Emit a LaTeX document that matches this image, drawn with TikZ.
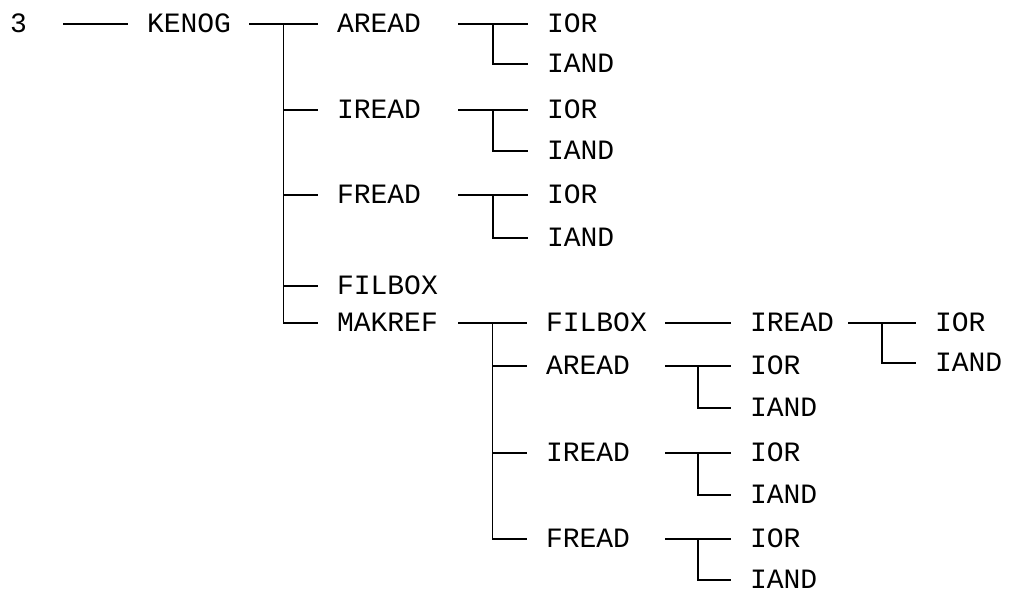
\documentclass[tikz,border=0pt]{standalone}
\usepackage{fontspec}
\setmonofont{Liberation Mono}
\usetikzlibrary{calc}
\begin{document}
\begin{tikzpicture}[x=1pt,y=-1pt,
  lbl/.style={inner sep=0pt, outer xsep=19pt, outer ysep=0pt, anchor=west,
    font=\ttfamily\fontsize{28}{28}\selectfont, text height=17pt, text depth=0pt},
  wd/.style={text width=#1, align=left},
  conn/.style={line width=1.8pt, line cap=butt}]
\useasboundingbox (0,0) rectangle (1016,591);
% labels
\node[lbl,wd=34pt] (n3) at (-9,24) {3};
\node[lbl,wd=83pt] (kenog) at (128,24) {KENOG};
\node[lbl,wd=102pt] (aread1) at (318,24) {AREAD};
\node[lbl,wd=102pt] (iread1) at (318,110) {IREAD};
\node[lbl,wd=102pt] (fread1) at (318,195) {FREAD};
\node[lbl,wd=102pt] (filbox1) at (318,286) {FILBOX};
\node[lbl,wd=102pt] (makref) at (318,323) {MAKREF};
\node[lbl] (ior1) at (528,24) {IOR};
\node[lbl] (iand1) at (528,64) {IAND};
\node[lbl] (ior2) at (528,110) {IOR};
\node[lbl] (iand2) at (528,151) {IAND};
\node[lbl] (ior3) at (528,195) {IOR};
\node[lbl] (iand3) at (528,238) {IAND};
\node[lbl,wd=100pt] (filbox2) at (527,323) {FILBOX};
\node[lbl,wd=100pt] (aread2) at (527,366) {AREAD};
\node[lbl,wd=100pt] (iread2) at (527,453) {IREAD};
\node[lbl,wd=100pt] (fread2) at (527,539) {FREAD};
\node[lbl,wd=79pt] (iread3) at (731,323) {IREAD};
\node[lbl] (ior4) at (731,366) {IOR};
\node[lbl] (iand4) at (731,408) {IAND};
\node[lbl] (ior5) at (731,453) {IOR};
\node[lbl] (iand5) at (731,495) {IAND};
\node[lbl] (ior6) at (731,539) {IOR};
\node[lbl] (iand6) at (731,580) {IAND};
\node[lbl] (ior7) at (916,323) {IOR};
\node[lbl] (iand7) at (916,363) {IAND};
% junctions
\coordinate (j1) at ($(kenog.east)!0.5!(aread1.west)$);
\coordinate (j2) at ($(aread1.east)!0.5!(ior1.west)$);
\coordinate (j3) at ($(iread1.east)!0.5!(ior2.west)$);
\coordinate (j4) at ($(fread1.east)!0.5!(ior3.west)$);
\coordinate (j5) at ($(makref.east)!0.5!(filbox2.west)$);
\coordinate (j6) at ($(aread2.east)!0.5!(ior4.west)$);
\coordinate (j7) at ($(iread2.east)!0.5!(ior5.west)$);
\coordinate (j8) at ($(fread2.east)!0.5!(ior6.west)$);
\coordinate (j9) at ($(iread3.east)!0.5!(ior7.west)$);
% connectors
\draw[conn] (n3.east) -- (kenog.west);
\draw[conn] (kenog.east) -- (aread1.west);
\draw[conn] (j1) |- (iread1.west);
\draw[conn] (j1) |- (fread1.west);
\draw[conn] (j1) |- (filbox1.west);
\draw[conn] (j1) |- (makref.west);
\draw[conn] (aread1.east) -- (ior1.west);
\draw[conn] (j2) |- (iand1.west);
\draw[conn] (iread1.east) -- (ior2.west);
\draw[conn] (j3) |- (iand2.west);
\draw[conn] (fread1.east) -- (ior3.west);
\draw[conn] (j4) |- (iand3.west);
\draw[conn] (makref.east) -- (filbox2.west);
\draw[conn] (j5) |- (aread2.west);
\draw[conn] (j5) |- (iread2.west);
\draw[conn] (j5) |- (fread2.west);
\draw[conn] (filbox2.east) -- (iread3.west);
\draw[conn] (aread2.east) -- (ior4.west);
\draw[conn] (j6) |- (iand4.west);
\draw[conn] (iread2.east) -- (ior5.west);
\draw[conn] (j7) |- (iand5.west);
\draw[conn] (fread2.east) -- (ior6.west);
\draw[conn] (j8) |- (iand6.west);
\draw[conn] (iread3.east) -- (ior7.west);
\draw[conn] (j9) |- (iand7.west);
\end{tikzpicture}
\end{document}
